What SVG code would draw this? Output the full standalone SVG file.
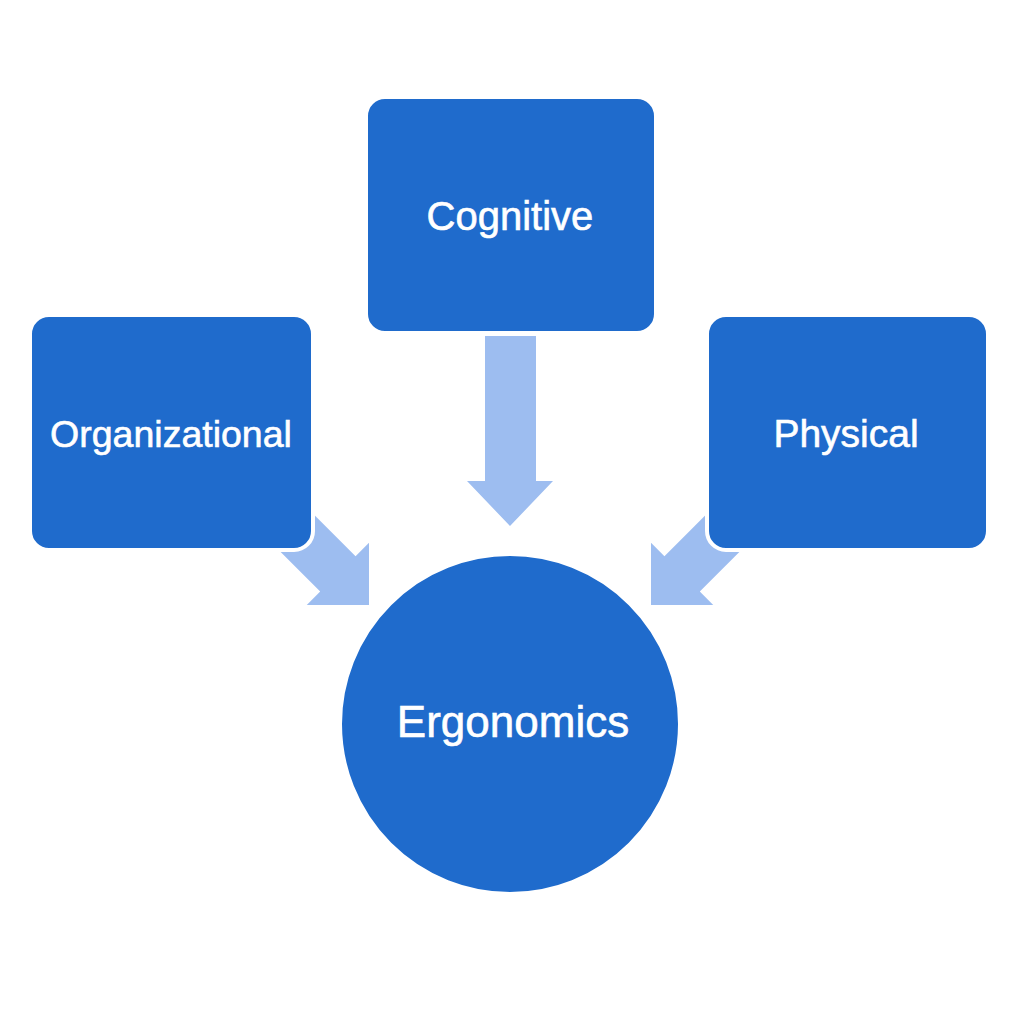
<svg xmlns="http://www.w3.org/2000/svg" width="1024" height="1024" viewBox="0 0 1024 1024">
<style>
.node{fill:#1f6bcc;stroke:#ffffff;stroke-width:4}
.arrow{fill:#9dbdf0}
.lbl{font-family:"Liberation Sans",Arial,sans-serif;fill:#ffffff;stroke:#ffffff;stroke-width:0.6;text-anchor:middle}
</style>
<rect width="1024" height="1024" fill="#ffffff"/>
<g id="connectors">
<polygon class="arrow" points="485,336 536,336 536,481 553,481 510,526 467,481 485,481"/>
<polygon class="arrow" transform="translate(369,605) rotate(45)" points="0,0 -44,-44 -44,-25 -130,-25 -130,25 -44,25 -44,44"/>
<polygon class="arrow" transform="translate(651,605) rotate(135)" points="0,0 -44,-44 -44,-25 -130,-25 -130,25 -44,25 -44,44"/>
</g>
<g id="cognitive">
<rect class="node" x="366" y="97" width="290" height="236" rx="19"/>
<text class="lbl" x="510" y="230" font-size="40">Cognitive</text>
</g>
<g id="organizational">
<rect class="node" x="30" y="315" width="283" height="235" rx="19"/>
<text class="lbl" x="171" y="447" font-size="37.5">Organizational</text>
</g>
<g id="physical">
<rect class="node" x="707" y="315" width="281" height="235" rx="19"/>
<text class="lbl" x="846" y="447" font-size="39">Physical</text>
</g>
<g id="ergonomics">
<circle class="node" cx="510" cy="724" r="170"/>
<text class="lbl" x="513" y="737" font-size="44">Ergonomics</text>
</g>
</svg>
